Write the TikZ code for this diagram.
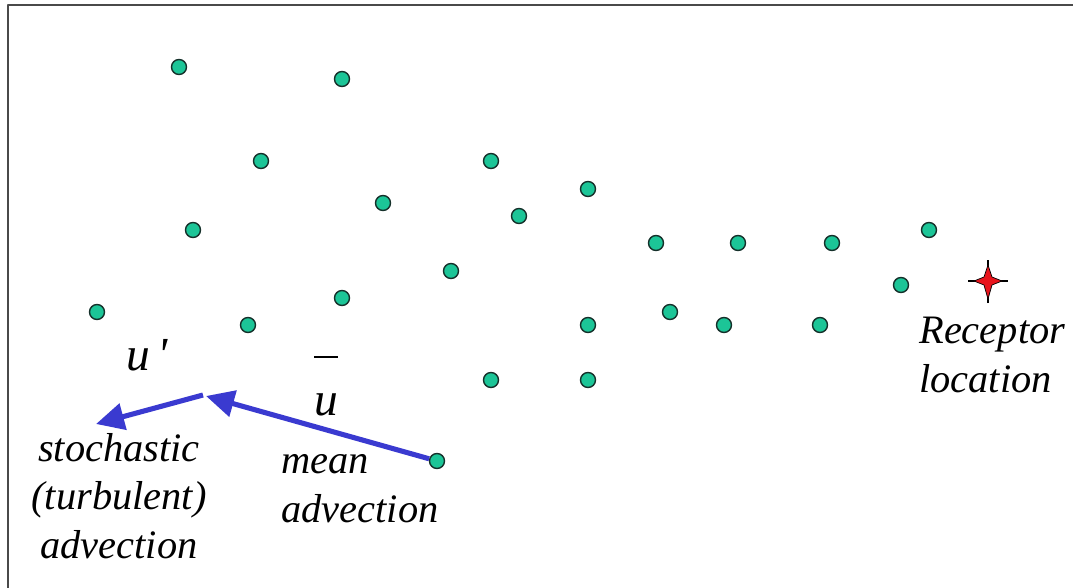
\documentclass[tikz,border=0pt]{standalone}
\usepackage{fontspec}
\setmainfont{Liberation Serif}
\usetikzlibrary{arrows.meta}
\newcommand{\Unit}{0.02cm}
\newcommand{\DotR}{7.5}
\newcommand{\Thick}{2.9pt}
\definecolor{puff}{HTML}{1CC597}
\definecolor{ink}{HTML}{15302A}
\definecolor{wind}{HTML}{3A3AD0}
\definecolor{frame}{HTML}{4A4A4A}
\definecolor{target}{HTML}{E8141C}

\begin{document}
\begin{tikzpicture}[x=\Unit,y=-\Unit, line join=round,
  dot/.style={circle,fill=puff,draw=ink,line width=0.8pt,inner sep=0pt,minimum size=2*\DotR*\Unit},
  label/.style={font=\fontsize{23}{27.5}\selectfont\itshape,inner sep=0pt,align=center},
  sym/.style={font=\fontsize{27}{27}\selectfont\itshape,inner sep=0pt,anchor=base west},
  flow/.style={wind,line width=\Thick,-{Triangle[length=16pt,width=15pt]}}]

  \useasboundingbox (0,0) rectangle (1073,588);

  % ---- frame, only top and left show ----------------------------------------
  \draw[frame,line width=1.3pt] (8,600) -- (8,5) -- (1080,5);

  % ---- the puffs --------------------------------------------------------------
  \foreach \x/\y [count=\i] in {179/67, 342/79, 261/161, 491/161, 588/189, 383/203,
      519/216, 193/230, 656/243, 738/243, 832/243, 929/230, 451/271, 901/285,
      97/312, 342/298, 248/325, 588/325, 670/312, 724/325, 820/325, 491/380,
      588/380, 437/461} {
    \node[dot] (p\i) at (\x,\y) {};
  }

  % ---- receptor ---------------------------------------------------------------
  \coordinate (rc) at (988,281);
  \draw[black,line width=1.2pt] ([xshift=-20*\Unit]rc) -- ([xshift=20*\Unit]rc);
  \draw[black,line width=1.2pt] ([yshift=-22*\Unit]rc) -- ([yshift=21*\Unit]rc);
  \fill[target,draw=black,line width=0.4pt] (rc) ++(-14,0) -- ++(10,-4) -- ++(4,-12)
    -- ++(4,12) -- ++(10,4) -- ++(-10,4) -- ++(-4,14) -- ++(-4,-14) -- cycle;
  \node[label,align=left,anchor=base west] (rec) at (919,392) {Receptor\\location};

  % ---- the two steps ----------------------------------------------------------
  \coordinate (kink) at (206,396);
  \coordinate (drift) at (96,424);
  \draw[flow] (p24) -- (kink);
  \draw[flow] ([xshift=-3*\Unit,yshift=1*\Unit]kink) -- (drift);

  % ---- symbols ----------------------------------------------------------------
  \node[sym] (uprime) at (126,370) {u\,\textquotesingle};
  \node[sym] (ubar) at (314,415) {u};
  % the bar sits well clear of the letter
  \draw[black,line width=1.2pt] ([yshift=36*\Unit]ubar.north west) -- ([yshift=36*\Unit]ubar.north east);

  % ---- words ------------------------------------------------------------------
  \node[label,anchor=base] (turb) at (119,558) {stochastic\\(turbulent)\\advection};
  \node[label,align=left,anchor=base west] (mean) at (281,522) {mean\\advection};

\end{tikzpicture}
\end{document}
